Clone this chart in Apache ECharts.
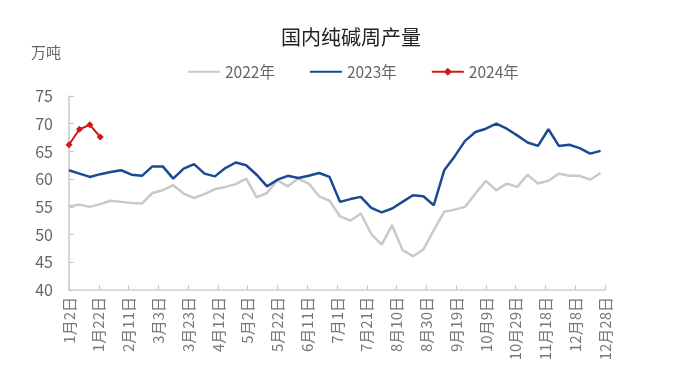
<!DOCTYPE html>
<html><head><meta charset="utf-8">
<script src="https://cdn.jsdelivr.net/npm/echarts@6/dist/echarts.min.js"></script>
<style>html,body{margin:0;padding:0;background:#fff}#c{width:684px;height:387px}</style>
</head><body><div id="c"></div>
<script>
// x tick labels, every 20 days starting 1月2日
const tickLabels = ['1月2日','1月22日','2月11日','3月3日','3月23日','4月12日','5月2日','5月22日','6月11日','7月1日','7月21日','8月10日','8月30日','9月19日','10月9日','10月29日','11月18日','12月8日','12月28日'];
const seriesNames = ['2022年','2023年','2024年'];
// weekly values (万吨), first week at 1月2日
const v2022 = [55.1,55.4,55.0,55.5,56.1,55.9,55.7,55.6,57.5,58.0,58.9,57.4,56.6,57.3,58.2,58.6,59.1,60.1,56.7,57.5,59.8,58.7,60.1,59.2,56.9,56.1,53.3,52.5,53.8,50.1,48.2,51.7,47.2,46.1,47.3,50.8,54.1,54.5,55.0,57.4,59.7,58.0,59.2,58.6,60.8,59.2,59.7,61.0,60.6,60.6,59.9,61.1];
const v2023 = [61.6,61.0,60.4,60.9,61.3,61.6,60.8,60.6,62.3,62.3,60.1,61.9,62.7,61.0,60.5,62.0,63.0,62.5,60.8,58.7,59.9,60.6,60.2,60.6,61.1,60.4,55.9,56.4,56.8,54.8,54.0,54.7,55.9,57.1,56.9,55.3,61.6,64.1,66.9,68.5,69.1,70.0,69.1,67.9,66.6,66.0,69.0,66.0,66.2,65.6,64.6,65.1];
const v2024 = [66.2,69.0,69.8,67.6];
const daysPerWeek = 7, daysPerTick = 20;

function toPairs(vals){ return vals.map((v,i)=>[i*daysPerWeek, v]); }

const chart = echarts.init(document.getElementById('c'));
const font = 'Noto Sans CJK SC, Noto Sans, sans-serif';
chart.setOption({
  animation:false,
  textStyle:{fontFamily:font},
  title:{text:'国内纯碱周产量',left:346,top:22,textAlign:'center',
    textStyle:{fontSize:20,fontWeight:'normal',color:'#222',fontFamily:font}},
  legend:{data:[
      {name:seriesNames[0],itemStyle:{opacity:0}},
      {name:seriesNames[1],itemStyle:{opacity:0}},
      {name:seriesNames[2]}],
    top:59,left:182,itemWidth:32,itemHeight:10,itemGap:34,
    textStyle:{fontSize:15.5,color:'#666',fontFamily:font}},
  grid:{left:69,right:79,top:96,bottom:97},
  xAxis:{type:'value',min:0,max:(tickLabels.length-1)*daysPerTick,interval:daysPerTick,
    axisLine:{lineStyle:{color:'#d0d0d0',width:1.5}},
    axisTick:{inside:true,length:5,lineStyle:{color:'#c8c8c8'}},
    splitLine:{show:false},
    axisLabel:{rotate:90,fontSize:15,color:'#777',margin:7,
      formatter:v=>tickLabels[Math.round(v/daysPerTick)]||''}},
  yAxis:{type:'value',min:40,max:75,interval:5,name:'万吨',
    nameLocation:'end',nameGap:0,
    nameTextStyle:{fontSize:15,color:'#666',align:'left',padding:[0,0,36,-38]},
    axisLine:{show:true,lineStyle:{color:'#c8c8c8',width:1.5}},
    axisTick:{show:true,inside:true,length:5,lineStyle:{color:'#c8c8c8'}},
    splitLine:{show:false},
    axisLabel:{fontSize:16,color:'#666',margin:16}},
  series:[
    {name:seriesNames[0],type:'line',data:toPairs(v2022),symbol:'none',
      lineStyle:{color:'#c9c9c9',width:2.5},itemStyle:{color:'#c9c9c9'},z:2},
    {name:seriesNames[1],type:'line',data:toPairs(v2023),symbol:'none',
      lineStyle:{color:'#1a4a94',width:2.5},itemStyle:{color:'#1a4a94'},z:3},
    {name:seriesNames[2],type:'line',data:toPairs(v2024),symbol:'diamond',symbolSize:7,
      lineStyle:{color:'#d01818',width:2},itemStyle:{color:'#d01818'},z:4}
  ]
});
</script></body></html>
